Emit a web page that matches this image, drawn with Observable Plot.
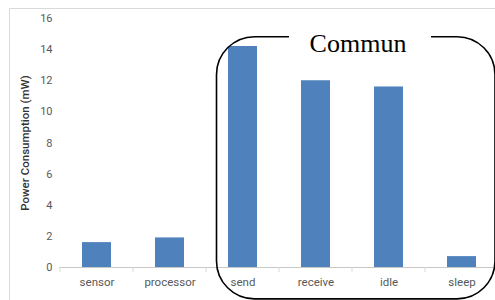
<!DOCTYPE html>
<html><head><meta charset="utf-8">
<script src="https://cdn.jsdelivr.net/npm/d3@7"></script>
<script src="https://cdn.jsdelivr.net/npm/@observablehq/plot@0.6"></script>
<style>
html,body{margin:0;padding:0;background:#fff;overflow:hidden}
#wrap{position:relative;width:495px;height:300px}
</style>
</head><body><div id="wrap"></div>
<script>
const categories = ["sensor","processor","send","receive","idle","sleep"];
const values = [1.6, 1.9, 14.2, 12.0, 11.6, 0.7];
const yTicks = [0,2,4,6,8,10,12,14,16];
const yLabel = "Power Consumption (mW)";
const annotationText = "Commun";
const groupStart = "send", groupEnd = "sleep";

const data = categories.map((c,i)=>({cat:c, value:values[i]}));

const chart = Plot.plot({
  width: 495, height: 300,
  marginLeft: 59, marginRight: 0, marginTop: 18, marginBottom: 33,
  style: {fontFamily: "Roboto, sans-serif", fontSize: "11px", color: "#595959", background: "#fff"},
  x: {domain: categories, range: [59, 499], paddingInner: 0.6, paddingOuter: 0.3, label: null},
  y: {domain: [0,16], label: null},
  marks: [
    Plot.gridY(yTicks, {stroke: "#d9d9d9", strokeOpacity: 1, x1: 55}),
    Plot.barY(data, {x: "cat", y: "value", fill: "#4f81bd"}),
    Plot.ruleY([0], {stroke: "#c8c8c8"}),
    Plot.axisX({tickSize: 0, tickPadding: 10, fontSize: 11.5, fill: "#595959"}),
    Plot.axisY(yTicks, {tickSize: 0, tickPadding: 7, fontSize: 11, fill: "#595959", label: null}),
    Plot.axisY({ticks: [], label: yLabel, labelAnchor: "center", labelArrow: "none", labelOffset: 39, fontSize: 11.5, fontWeight: 500, fill: "#333"})
  ]
});
document.getElementById("wrap").appendChild(chart);

(function(){
const xs = chart.scale("x"), ys = chart.scale("y");
const bw = xs.bandwidth !== undefined ? xs.bandwidth : 0;
const step = (xs.apply(categories[1]) - xs.apply(categories[0]));
const pad = (step - bw) / 2;
const svg = d3.select(chart);

svg.append("path").attr("d", "M9.5,300V8.5H495").attr("fill","none").attr("stroke","#d9d9d9");

categories.forEach(c => {
  const bx = xs.apply(c) - pad;
  svg.append("line").attr("x1", bx).attr("x2", bx).attr("y1", ys.apply(0)).attr("y2", ys.apply(0)+5).attr("stroke","#d9d9d9");
});

const boxLeft = xs.apply(groupStart) - pad + 10.5;
const boxRight = xs.apply(groupEnd) + bw + pad - 3;
const boxTop = ys.apply(14.8);
const boxBottom = ys.apply(-2.05);
svg.append("rect").attr("x", boxLeft).attr("y", boxTop).attr("width", boxRight-boxLeft).attr("height", boxBottom-boxTop)
  .attr("rx", 38).attr("ry", 38).attr("fill","none").attr("stroke","#000").attr("stroke-width",1.6);
const cx = (xs.apply("receive") + xs.apply("idle") + bw) / 2 + 6;
svg.append("rect").attr("x", cx-69).attr("y", boxTop-8).attr("width", 142).attr("height", 27).attr("fill","#fff");
svg.append("text").attr("x", cx).attr("y", ys.apply(13.8)).attr("text-anchor","middle")
  .attr("font-family","'Liberation Serif', 'Times New Roman', serif").attr("font-size", 26).attr("fill","#000")
  .text(annotationText);
})();
</script>
</body></html>
